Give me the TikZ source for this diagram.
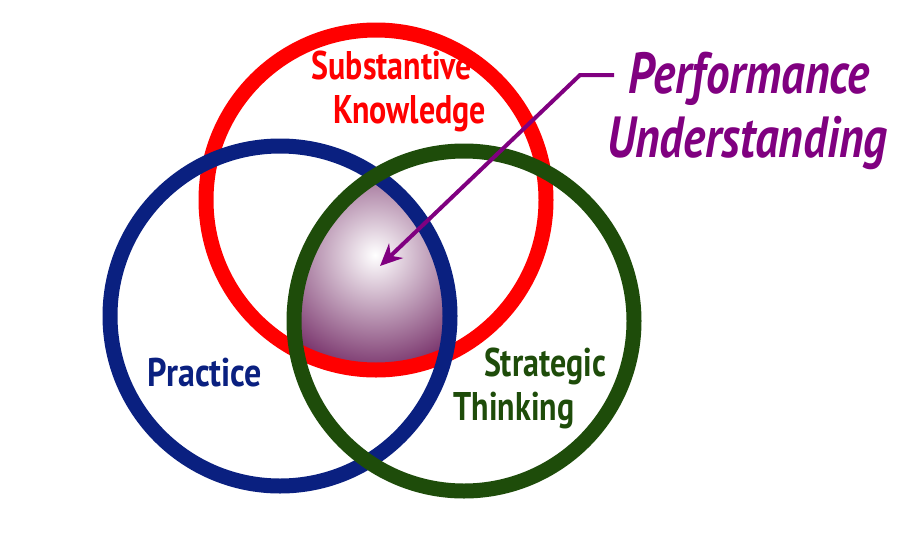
\documentclass[tikz,border=0pt]{standalone}
\usepackage{fontspec}
\setmainfont{PT Sans}
\usetikzlibrary{arrows.meta}
\definecolor{cred}{RGB}{255,0,0}
\definecolor{cblue}{RGB}{10,32,128}
\definecolor{cgreen}{RGB}{30,76,10}
\definecolor{cpurp}{RGB}{128,0,128}
\definecolor{cshade}{RGB}{100,20,85}
\tikzset{ring/.style={line width=15pt},
 lab/.style={font=\bfseries\fontsize{40}{44}\selectfont, inner sep=0pt}}
\begin{document}
\begin{tikzpicture}[x=1pt,y=-1pt]
\useasboundingbox (0,0) rectangle (910,536);
\coordinate (R) at (376,200);
\coordinate (B) at (280,316);
\coordinate (G) at (464,321);
\begin{scope}
\clip (R) circle (170);
\clip (B) circle (170);
\clip (G) circle (170);
\shade[inner color=white, outer color=cshade] (375,255) circle (135);
\end{scope}
\draw[ring, cred] (R) circle (170);
\draw[ring, cblue] (B) circle (170);
\draw[ring, cgreen] (G) circle (170);
\node[lab, cred] (sk) at (392,93) {\scalebox{0.8}[1]{\begin{tabular}{@{}c@{}}Substantive\\\hspace*{1.1em}Knowledge\end{tabular}}};
\node[lab, cblue] (pr) at (205,373) {\scalebox{0.85}[1]{Practice}};
\node[lab, cgreen] (st) at (545,366) {\scalebox{0.8}[1]{Strategic}};
\node[lab, cgreen] (th) at (514,411) {\scalebox{0.8}[1]{Thinking}};
\node[cpurp, font=\bfseries\itshape\fontsize{58}{64}\selectfont, inner sep=0pt, align=left] (pu) at (752,113) {\scalebox{0.81}[1]{\begin{tabular}{@{}l@{}}\hspace*{0.25em}Performance\\\hspace*{-0.2em}Understanding\end{tabular}}};
\coordinate (tail) at (614,75);
\coordinate (bend) at (580,75);
\coordinate (tip) at (380,266);
\draw[cpurp, line width=4pt, -{Stealth[length=22pt,width=20pt]}] (tail) -- (bend) -- (tip);
\end{tikzpicture}
\end{document}
